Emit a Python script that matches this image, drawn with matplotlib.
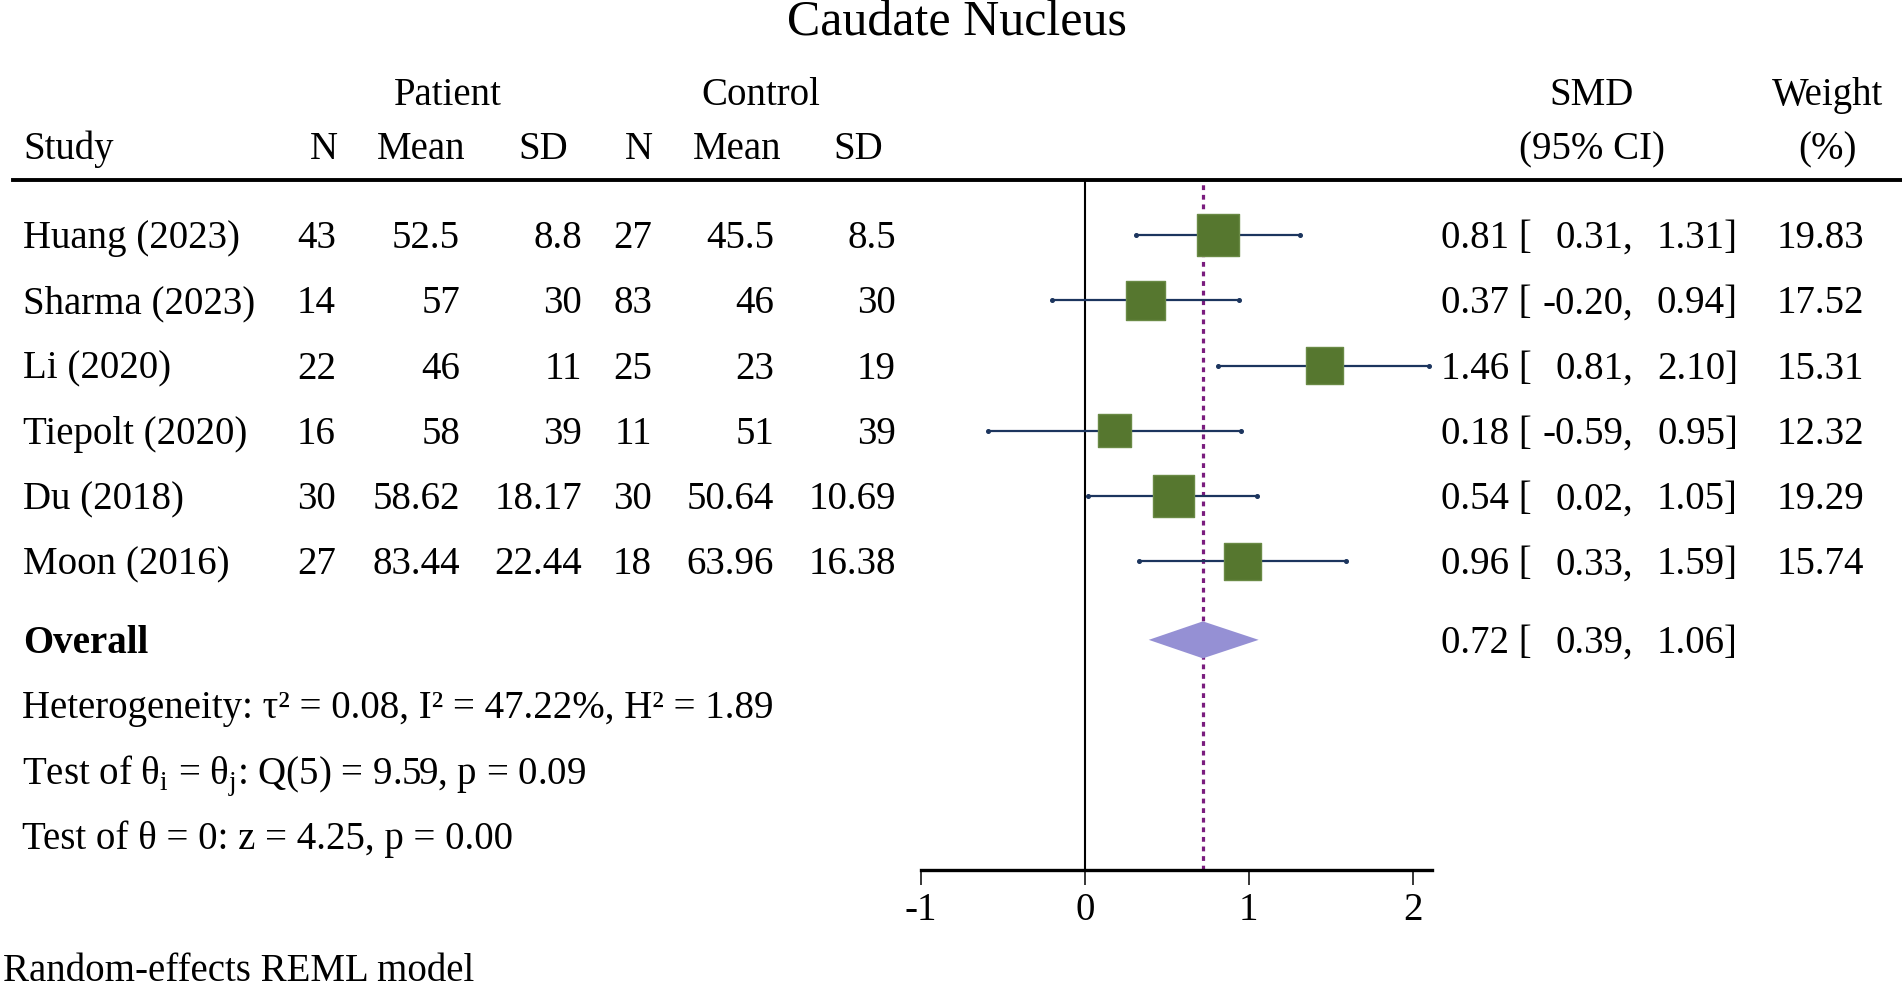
import numpy as np
import matplotlib.pyplot as plt
import matplotlib.transforms as mtransforms

# data
studies = ['Huang (2023)', 'Sharma (2023)', 'Li (2020)', 'Tiepolt (2020)', 'Du (2018)', 'Moon (2016)']
pat_n = [43, 14, 22, 16, 30, 27]
pat_mean = [52.5, 57, 46, 58, 58.62, 83.44]
pat_sd = [8.8, 30, 11, 39, 18.17, 22.44]
con_n = [27, 83, 25, 11, 30, 18]
con_mean = [45.5, 46, 23, 51, 50.64, 63.96]
con_sd = [8.5, 30, 19, 39, 10.69, 16.38]
smd = [0.81, 0.37, 1.46, 0.18, 0.54, 0.96]
ci_lo = [0.31, -0.20, 0.81, -0.59, 0.02, 0.33]
ci_hi = [1.31, 0.94, 2.10, 0.95, 1.05, 1.59]
weight = [19.83, 17.52, 15.31, 12.32, 19.29, 15.74]
overall_smd, overall_lo, overall_hi = 0.72, 0.39, 1.06
het_text = 'Heterogeneity: τ² = 0.08, I² = 47.22%, H² = 1.89'
q_text = 'Test of θ$_\\mathrm{i}$ = θ$_\\mathrm{j}$: Q(5) = 9.59, p = 0.09'
z_text = 'Test of θ = 0: z = 4.25, p = 0.00'
xticks = [-1, 0, 1, 2]

plt.rcParams['font.family'] = ['Liberation Serif', 'DejaVu Serif']
plt.rcParams['mathtext.fontset'] = 'custom'
plt.rcParams['mathtext.rm'] = 'Liberation Serif'
plt.rcParams['axes.unicode_minus'] = False

W, H = 1902, 991
FS = 28
ROW0_PX, ROW_PX = 235, 65.3      # centre of first row, row spacing
TOP_PX, AXIS_PX = 180, 870       # header rule, x axis line
X0_PX, UNIT_PX = 1084.8, 164.0   # pixel of SMD=0, pixels per unit
BASE = 13 / ROW_PX               # baseline below row centre


def row_of(px):
    return 1 + (px - ROW0_PX) / ROW_PX


fig = plt.figure(figsize=(W / 100, H / 100), dpi=100)
ax = fig.add_axes([0, 1 - AXIS_PX / H, 1, (AXIS_PX - TOP_PX) / H])
ax.set_xlim(-X0_PX / UNIT_PX, (W - X0_PX) / UNIT_PX)
ax.set_ylim(row_of(AXIS_PX), row_of(TOP_PX))
ax.patch.set_alpha(0)

rows = np.arange(1, len(studies) + 1)
overall_row = 7.2

navy = '#1c355e'
green = '#56772f'
purple = '#7a1c7e'
lavender = '#9590d4'

ax.axvline(0, color='black', lw=1.5, zorder=1)
ax.axvline(overall_smd, color=purple, lw=2.3, dashes=(1.5, 1.5), zorder=1)
ax.axhline(row_of(TOP_PX), xmin=13 / W, xmax=1, color='black', lw=2.8, clip_on=False)

ax.hlines(rows, ci_lo, ci_hi, color=navy, lw=1.6, zorder=2)
ax.plot(ci_lo, rows, 'o', ms=2.6, color=navy, zorder=2)
ax.plot(ci_hi, rows, 'o', ms=2.6, color=navy, zorder=2)
ax.scatter(smd, rows, marker='s', s=(6.8 * np.sqrt(weight)) ** 2,
           color=green, edgecolors='#6a8a45', linewidths=1, zorder=3)

h = 18.5 / ROW_PX
ax.fill([overall_lo, overall_smd, overall_hi, overall_smd],
        [overall_row, overall_row - h, overall_row, overall_row + h],
        color=lavender, lw=0, zorder=3)

ax.set_yticks([])
for s in ['left', 'right', 'top']:
    ax.spines[s].set_visible(False)
ax.spines['bottom'].set_linewidth(2.4)
ax.spines['bottom'].set_bounds(-1, 2.12)
ax.set_xticks(xticks)
ax.set_xticklabels([str(t) for t in xticks])
ax.tick_params(axis='x', direction='out', length=10.8, width=1.1, labelsize=FS, pad=5)

# text in table columns, y follows the rows of the plot
trans = mtransforms.blended_transform_factory(fig.transFigure, ax.transData)


def row_text(x_px, row, s, ha='left', **kw):
    ax.text(x_px / W, row + BASE, s, transform=trans, ha=ha, va='baseline',
            fontsize=FS, **kw)


def fig_text(x_px, y_px, s, ha='left', size=FS, **kw):
    fig.text(x_px / W, 1 - y_px / H, s, ha=ha, va='baseline', fontsize=size, **kw)


fig_text(957, 35, 'Caudate Nucleus', ha='center', size=36)
fig_text(448, 105, 'Patient', ha='center')
fig_text(761, 105, 'Control', ha='center')
fig_text(1592, 105, 'SMD', ha='center')
fig_text(1828, 105, 'Weight', ha='center')
fig_text(23, 159, 'Study')
fig_text(338, 159, 'N', ha='right')
fig_text(421, 159, 'Mean', ha='center')
fig_text(543, 159, 'SD', ha='center')
fig_text(653, 159, 'N', ha='right')
fig_text(737, 159, 'Mean', ha='center')
fig_text(858, 159, 'SD', ha='center')
fig_text(1592, 159, '(95% CI)', ha='center')
fig_text(1827, 159, '(%)', ha='center')


def ci_text(row, es, lo, hi):
    row_text(1441, row, f'{es:.2f} [')
    row_text(1633, row, f'{lo:.2f},', ha='right')
    row_text(1738, row, f'{hi:.2f}]', ha='right')


for i, r in enumerate(rows):
    row_text(23, r, studies[i])
    row_text(336, r, f'{pat_n[i]}', ha='right')
    row_text(460, r, f'{pat_mean[i]:g}', ha='right')
    row_text(582, r, f'{pat_sd[i]:g}', ha='right')
    row_text(652, r, f'{con_n[i]}', ha='right')
    row_text(774, r, f'{con_mean[i]:g}', ha='right')
    row_text(896, r, f'{con_sd[i]:g}', ha='right')
    ci_text(r, smd[i], ci_lo[i], ci_hi[i])
    row_text(1864, r, f'{weight[i]:.2f}', ha='right')

row_text(23, overall_row, 'Overall', fontweight='bold')
ci_text(overall_row, overall_smd, overall_lo, overall_hi)
row_text(22, overall_row + 1, het_text)
row_text(22, overall_row + 2, q_text)
row_text(22, overall_row + 3, z_text)

fig_text(3, 981, 'Random-effects REML model')

fig.savefig('out.png', dpi=100)
